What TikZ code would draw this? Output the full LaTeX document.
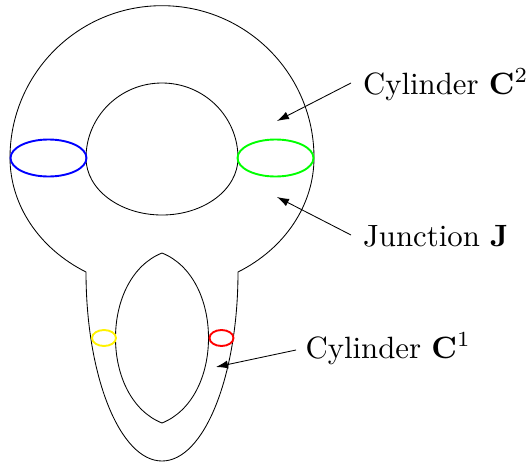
\documentclass[tikz,border=0pt]{standalone}
\usepackage{tikz}
\usetikzlibrary{arrows.meta}
\tikzset{
  outline/.style={draw=black,line width=0.85pt},
  ring/.style={line width=1.9pt},
  pointer/.style={draw=black,line width=0.85pt,-{Latex[length=12pt,width=8pt]}},
  lbl/.style={scale=3.08,inner sep=0pt,anchor=base west}
}
\begin{document}
\begin{tikzpicture}[x=1pt,y=-1pt]
\useasboundingbox (0,0) rectangle (528,461);
% outer outline
\draw[outline] (86,272) arc[start angle=120,end angle=180,x radius=152,y radius=132]
  arc[start angle=180,end angle=360,x radius=152,y radius=152]
  arc[start angle=0,end angle=60,x radius=152,y radius=132]
  arc[start angle=0,end angle=180,x radius=76,y radius=189]
  -- cycle;
% inner hole
\draw[outline] (86,158) arc[start angle=180,end angle=360,x radius=76,y radius=75]
  arc[start angle=0,end angle=180,x radius=76,y radius=57] -- cycle;
% lens
\draw[outline] (162,253) .. controls (132,265) and (115.5,300) .. (115.5,338)
  .. controls (115.5,376) and (132,411) .. (162,423)
  .. controls (192,411) and (208.5,376) .. (208.5,338)
  .. controls (208.5,300) and (192,265) .. (162,253) -- cycle;
% rings
\draw[ring,draw=blue] (48.5,158) ellipse [x radius=38,y radius=18.5];
\draw[ring,draw=green] (275.5,158) ellipse [x radius=38,y radius=18.5];
\draw[ring,draw=yellow] (104,338) ellipse [x radius=12,y radius=8];
\draw[ring,draw=red] (221.5,338) ellipse [x radius=12,y radius=8];
% labels
\node[lbl] (c2) at (362.5,94) {Cylinder $\mathbf{C}^2$};
\node[lbl] (j) at (362.5,246) {Junction $\mathbf{J}$};
\node[lbl] (c1) at (305,358) {Cylinder $\mathbf{C}^1$};
\coordinate (c2s) at (351,83);
\coordinate (c2e) at (277,121);
\coordinate (js) at (351,235);
\coordinate (je) at (277,197);
\coordinate (c1s) at (296,350);
\coordinate (c1e) at (216,367);
\draw[pointer] (c2s) -- (c2e);
\draw[pointer] (js) -- (je);
\draw[pointer] (c1s) -- (c1e);
\end{tikzpicture}
\end{document}
